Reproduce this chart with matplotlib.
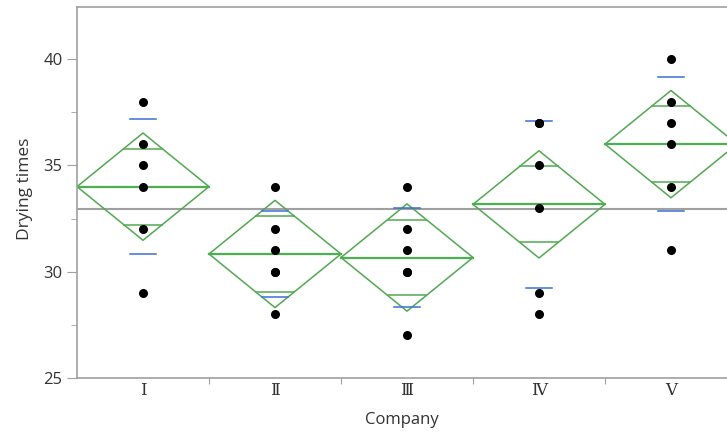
import numpy as np
import matplotlib
matplotlib.use("Agg")
import matplotlib.pyplot as plt

# drying times per company
companies = ["Ⅰ", "Ⅱ", "Ⅲ", "Ⅳ", "Ⅴ"]
times_I = [38, 36, 35, 34, 32, 29]
times_II = [34, 32, 31, 30, 30, 28]
times_III = [34, 32, 31, 30, 30, 27]
times_IV = [37, 37, 35, 33, 29, 28]
times_V = [40, 38, 37, 36, 34, 31]
groups = [times_I, times_II, times_III, times_IV, times_V]

t_crit = 2.06  # t(0.975, 25)

means = [np.mean(g) for g in groups]
sds = [np.std(g, ddof=1) for g in groups]
ss = sum(((np.array(g) - np.mean(g)) ** 2).sum() for g in groups)
df = sum(len(g) for g in groups) - len(groups)
pooled = np.sqrt(ss / df)
grand = np.mean(np.concatenate(groups))

green = "#4caf50"
blue = "#3b6fd6"
gray = "#a0a0a0"

fig = plt.figure(figsize=(7.27, 4.34), dpi=100)
ax = fig.add_axes([77 / 727, 1 - 378 / 434, 660 / 727, 371 / 434])

ax.axhline(grand, color=gray, lw=1.5, zorder=1)

for i, g in enumerate(groups):
    m = means[i]
    h = t_crit * pooled / np.sqrt(len(g))
    # means diamond
    ax.plot([i - 0.5, i, i + 0.5, i, i - 0.5], [m, m + h, m, m - h, m],
            color="#52a852", lw=1.1, zorder=2)
    ax.plot([i - 0.5, i + 0.5], [m, m], color=green, lw=1.6, zorder=2)
    # overlap marks
    d = h / np.sqrt(2)
    w = 0.5 * (1 - d / h)
    for y in (m + d, m - d):
        ax.plot([i - w, i + w], [y, y], color="#52a852", lw=1.1, zorder=2)
    # std dev marks
    for y in (m + sds[i], m - sds[i]):
        ax.plot([i - 0.1, i + 0.1], [y, y], color=blue, lw=1.1, zorder=3)
    ax.scatter([i] * len(g), g, s=30, color="black", zorder=4)

ax.set_xlim(-0.5, 4.5)
ax.set_ylim(25, 42.45)

ax.set_xticks([0.5, 1.5, 2.5, 3.5])
ax.set_xticklabels([])
ax.set_xticks(range(5), minor=True)
ax.set_xticklabels(companies, minor=True, fontsize=12, family=["DejaVu Serif"], color="#333333")
ax.tick_params(axis="x", which="minor", length=0, pad=3)
ax.tick_params(axis="x", which="major", length=4, color=gray)

ax.set_yticks([25, 30, 35, 40])
ax.set_yticks([27.5, 32.5, 37.5], minor=True)
ax.tick_params(axis="y", which="major", length=7, color=gray, labelsize=12, labelcolor="#333333")
ax.tick_params(axis="y", which="minor", length=4, color=gray)
for lab in ax.get_yticklabels():
    lab.set_family("Open Sans")

for side in ["left", "bottom", "top", "right"]:
    ax.spines[side].set_color(gray)
    ax.spines[side].set_linewidth(1.2)

ax.set_xlabel("Company", fontsize=12, family="Open Sans", color="#333333", va="top")
ax.set_ylabel("Drying times", fontsize=12.5, family="Open Sans", color="#333333", va="bottom")
ax.xaxis.set_label_coords((402 - 77) / 660, -34 / 371)
ax.yaxis.set_label_coords(-44 / 660, (378 - 189) / 371)

fig.savefig("out.png", dpi=100)
